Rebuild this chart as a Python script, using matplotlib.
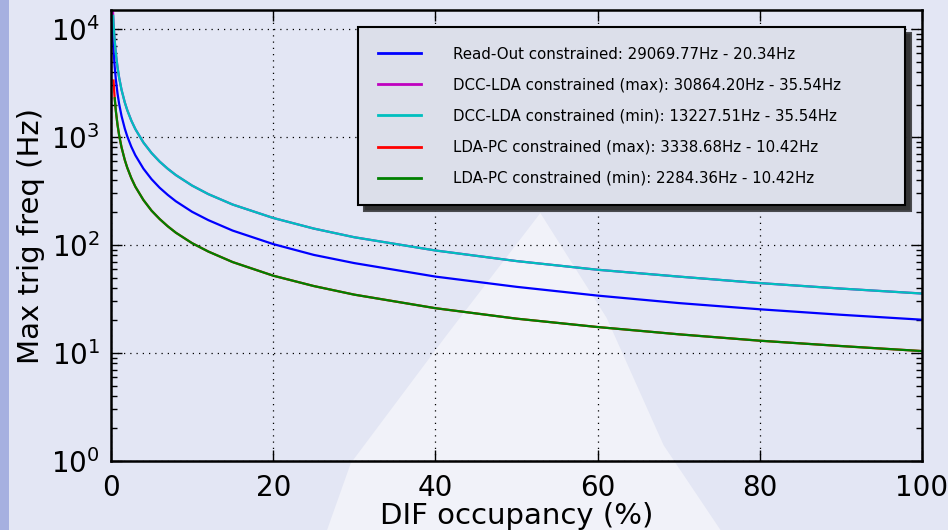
import numpy as np
import matplotlib
matplotlib.use("Agg")
import matplotlib.pyplot as plt
from matplotlib.patches import Rectangle, Polygon

nan = np.nan

# DIF occupancy (%) sample points
occupancy = [0.07, 0.1, 0.115, 0.15, 0.2, 0.27, 0.31, 0.4, 0.46, 0.6, 0.8, 1, 1.3, 1.7, 2,
             2.5, 3, 4, 5, 6, 7, 8, 10, 12, 15, 20, 25, 30, 40, 50, 60, 70, 80, 90, 100]

readout = [29070, 20340, 17690, 13560, 10170, 7530, 6560, 5085, 4420, 3390, 2540, 2034, 1565,
           1197, 1017, 814, 678, 509, 407, 339, 291, 254, 203, 170, 136, 102, 81, 68, 51, 41,
           34, 29, 25.4, 22.6, 20.34]
dcc_max = [nan, nan, 30864, 23690, 17770, 13160, 11460, 8885, 7725, 5923, 4443, 3554, 2734,
           2091, 1777, 1422, 1185, 889, 711, 592, 508, 444, 355, 296, 237, 178, 142, 118, 89,
           71, 59, 51, 44.4, 39.5, 35.54]
dcc_min = [nan, nan, nan, nan, nan, 13227.5, 11460, 8885, 7725, 5923, 4443, 3554, 2734,
           2091, 1777, 1422, 1185, 889, 711, 592, 508, 444, 355, 296, 237, 178, 142, 118, 89,
           71, 59, 51, 44.4, 39.5, 35.54]
ldapc_max = [nan, nan, nan, nan, nan, nan, 3338.7, 2605, 2265, 1737, 1303, 1042, 802, 613,
             521, 417, 347, 261, 208, 174, 149, 130, 104, 87, 69.5, 52, 41.7, 34.7, 26, 20.8,
             17.4, 14.9, 13, 11.6, 10.42]
ldapc_min = [nan, nan, nan, nan, nan, nan, nan, nan, 2284.4, 1737, 1303, 1042, 802, 613,
             521, 417, 347, 261, 208, 174, 149, 130, 104, 87, 69.5, 52, 41.7, 34.7, 26, 20.8,
             17.4, 14.9, 13, 11.6, 10.42]

labels = ["Read-Out constrained: 29069.77Hz - 20.34Hz",
          "DCC-LDA constrained (max): 30864.20Hz - 35.54Hz",
          "DCC-LDA constrained (min): 13227.51Hz - 35.54Hz",
          "LDA-PC constrained (max): 3338.68Hz - 10.42Hz",
          "LDA-PC constrained (min): 2284.36Hz - 10.42Hz"]
series = [readout, dcc_max, dcc_min, ldapc_max, ldapc_min]
colors = ["#0000ff", "#bf00bf", "#00bfbf", "#ff0000", "#008000"]

plt.rcParams['font.family'] = ['DejaVu Sans']

fig = plt.figure(figsize=(9.48, 5.30), dpi=100)
fig.patch.set_facecolor("#e3e6f4")

# slide-like background decorations
fig.patches.append(Rectangle((0, 0), 0.009, 1, transform=fig.transFigure,
                             facecolor="#a6b0e0", edgecolor="none", zorder=-10))
fig.patches.append(Polygon([(0.345, 0.0), (0.37, 0.126), (0.47, 0.365), (0.57, 0.598),
                            (0.64, 0.40), (0.70, 0.16), (0.76, 0.0)],
                           closed=True, transform=fig.transFigure,
                           facecolor="#f1f2f9", edgecolor="none", zorder=-9))

ax = fig.add_axes([111 / 948, 1 - 461 / 530, (922 - 111) / 948, (461 - 10) / 530])
ax.patch.set_alpha(0.0)

for vals, col, lab in zip(series, colors, labels):
    ax.plot(occupancy, vals, color=col, lw=1.6, label=lab)

ax.set_yscale('log')
ax.set_xlim(0, 100)
ax.set_ylim(1, 15000)
ax.set_xticks([0, 20, 40, 60, 80, 100])
ax.grid(True, which='major', color='black', linestyle=(0, (1, 4)), linewidth=0.9)

ax.tick_params(which='both', direction='in', top=True, right=True, labelsize=20,
               width=1.0)
ax.tick_params(axis='x', pad=9)
ax.tick_params(axis='y', pad=8)
ax.tick_params(which='major', length=8)
ax.tick_params(which='minor', length=4)
for s in ax.spines.values():
    s.set_linewidth(1.8)

ax.set_xlabel("DIF occupancy (%)", fontsize=21, labelpad=0)
ax.set_ylabel("Max trig freq (Hz)", fontsize=21, labelpad=4)

leg = ax.legend(loc='upper left', bbox_to_anchor=(0.3046, 0.568, 0.6745, 0.394),
                mode='expand', borderaxespad=0, fontsize=10.8,
                shadow={'ox': 4, 'oy': -4, 'facecolor': '#2a2a2a', 'alpha': 0.95},
                fancybox=False, handlelength=2.9, handletextpad=2.1, labelspacing=1.07,
                borderpad=1.3, framealpha=1.0)
leg.get_frame().set_edgecolor('black')
leg.get_frame().set_linewidth(1.5)
leg.get_frame().set_facecolor('#dcdfea')
for h in leg.get_lines():
    h.set_linewidth(2.0)

fig.savefig("out.png", dpi=100, facecolor=fig.get_facecolor())
